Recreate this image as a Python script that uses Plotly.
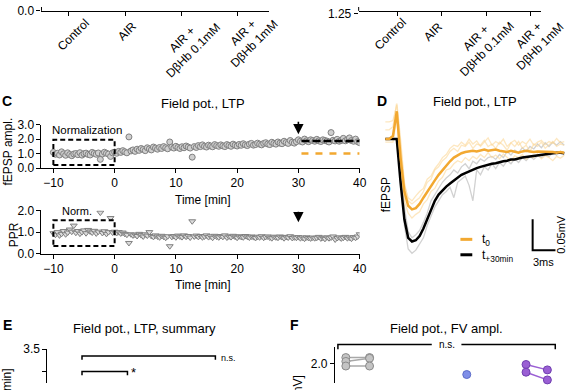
import plotly.graph_objects as go

W, H = 585, 390
FONT = "Liberation Sans, Arial, sans-serif"

def fx(p):
    return p / W

def fy(p):
    return 1 - p / H

# ---------------- data ----------------
cat_labels = ["Control", "AIR", "AIR +<br>DβHb 0.1mM", "AIR +<br>DβHb 1mM"]
a_point_x = [2.8]
a_point_y = [0.13]

# Panel C : time course (3 samples / min, -10 ... 40 min)
t_start, t_step = -10.0, 1.0 / 3.0
fepsp_ampl = [
    1.08, 0.95, 1.02, 0.90, 1.12, 0.98, 0.88, 1.05, 0.93, 0.85,
    0.97, 1.00, 0.92, 1.06, 0.89, 0.99, 1.03, 0.94, 0.90, 1.08,
    1.01, 0.95, 1.04, 0.60, 0.97, 1.09, 1.02, 0.96, 0.80, 1.05,
    1.10, 1.02, 1.15, 1.08, 1.20, 1.12, 1.05, 2.15, 1.18, 1.25,
    1.15, 1.30, 1.22, 1.35, 1.28, 1.20, 1.40, 1.32, 1.25, 1.45,
    1.38, 1.30, 1.42, 1.35, 1.48, 1.40, 1.33, 1.80, 1.45, 1.38,
    1.50, 1.42, 1.35, 1.47, 1.40, 1.52, 1.45, 1.38, 0.75, 1.48,
    1.42, 1.55, 1.48, 1.60, 1.50, 1.45, 1.58, 1.52, 1.47, 1.62,
    1.55, 1.50, 1.60, 1.53, 1.48, 1.62, 1.56, 1.50, 1.65, 1.58,
    1.52, 1.63, 1.57, 1.68, 1.60, 1.55, 1.65, 1.70, 1.58, 1.62,
    1.72, 1.65, 1.60, 1.70, 1.75, 1.66, 1.62, 1.78, 1.70, 1.65,
    1.80, 1.72, 1.68, 1.85, 1.76, 1.70, 1.90, 1.78, 1.72, 1.82,
    1.95, 1.85, 1.80, 2.00, 1.88, 1.82, 1.95, 1.90, 1.85, 1.98,
    1.88, 1.83, 1.95, 1.90, 1.86, 1.80, 2.45, 1.92, 1.87, 1.98,
    1.85, 1.90, 2.05, 1.88, 1.95, 2.08, 1.90, 1.85, 2.00, 1.82, 1.75,
]
ppr = [
    0.95, 0.88, 1.00, 0.85, 0.92, 1.05, 0.90, 0.98, 1.12, 1.02,
    1.30, 0.97, 1.05, 0.93, 1.00, 1.08, 0.95, 1.10, 1.03, 0.98,
    1.06, 0.94, 1.02, 1.90, 0.96, 1.04, 0.92, 1.00, 1.65, 0.98,
    1.02, 0.96, 1.00, 0.94, 0.98, 0.92, 0.88, 0.50, 0.90, 0.85,
    0.88, 0.82, 0.92, 0.86, 0.80, 0.90, 0.84, 1.00, 0.82, 0.78,
    0.85, 0.80, 0.76, 0.83, 0.79, 0.74, 0.81, 0.35, 0.78, 0.82,
    0.76, 0.84, 0.80, 0.77, 0.85, 0.79, 0.82, 0.75, 1.50, 0.80,
    0.84, 0.78, 0.82, 0.76, 0.80, 0.85, 0.77, 0.81, 0.74, 0.83,
    0.79, 0.76, 0.82, 0.78, 0.85, 0.75, 0.80, 0.77, 0.83, 0.79,
    0.74, 0.81, 0.78, 0.76, 0.82, 0.79, 0.75, 0.80, 0.77, 0.73,
    0.79, 0.76, 0.81, 0.74, 0.78, 0.80, 0.75, 0.72, 0.79, 0.76,
    0.74, 0.80, 0.77, 0.72, 0.78, 0.75, 0.81, 0.73, 0.76, 0.74,
    0.77, 0.72, 0.75, 0.70, 0.76, 0.73, 0.71, 0.75, 0.72, 0.74,
    0.78, 0.71, 0.74, 0.69, 0.76, 0.72, 0.75, 0.80, 0.66, 0.73,
    0.76, 0.71, 0.74, 0.78, 0.72, 0.75, 0.70, 0.77, 0.74, 0.80, 0.90,
]
time_min = [t_start + i * t_step for i in range(len(fepsp_ampl))]
norm_window = [-10, 0]
ltp_window = [30.5, 40]
ltp_level = 1.87
base_level = 1.0
stim_time = 30

# Panel D : example traces (ms, mV), 0.5 ms sampling
trace_t = [i * 0.5 for i in range(48)]
mean_t0 = [
    0.0, 0.0, 0.005, 0.045, -0.03, -0.085, -0.108, -0.114, -0.112, -0.105,
    -0.095, -0.085, -0.075, -0.067, -0.058, -0.05, -0.043, -0.036, -0.03, -0.026,
    -0.023, -0.021, -0.02, -0.019, -0.02, -0.018, -0.017, -0.019, -0.018, -0.017,
    -0.019, -0.02, -0.021, -0.019, -0.02, -0.022, -0.02, -0.019, -0.02, -0.021,
    -0.02, -0.02, -0.021, -0.02, -0.021, -0.022, -0.021, -0.022,
]
mean_t30 = [
    0.0, 0.0, 0.0, 0.0, -0.07, -0.13, -0.16, -0.166, -0.164, -0.157,
    -0.145, -0.13, -0.115, -0.1, -0.09, -0.083, -0.077, -0.072, -0.067, -0.062,
    -0.058, -0.055, -0.052, -0.049, -0.047, -0.045, -0.043, -0.042, -0.04, -0.039,
    -0.037, -0.036, -0.035, -0.033, -0.033, -0.031, -0.03, -0.029, -0.028, -0.027,
    -0.026, -0.025, -0.024, -0.024, -0.023, -0.022, -0.022, -0.023,
]
single_t0 = [
    [0.015, 0.015, 0.02, 0.06, 0.0, -0.07, -0.1, -0.105, -0.1, -0.095,
     -0.085, -0.07, -0.065, -0.05, -0.045, -0.035, -0.03, -0.02, -0.015, -0.02,
     -0.01, -0.012, -0.005, -0.015, -0.008, -0.01, -0.002, -0.012, -0.008, -0.015,
     -0.005, -0.01, -0.018, -0.006, -0.012, -0.004, -0.015, -0.01, -0.02, -0.008,
     -0.012, -0.005, -0.015, -0.01, -0.004, -0.012, -0.008, -0.01],
    [-0.005, -0.005, -0.005, 0.035, -0.045, -0.1, -0.12, -0.128, -0.122, -0.118,
     -0.105, -0.098, -0.085, -0.08, -0.068, -0.062, -0.05, -0.048, -0.04, -0.035,
     -0.038, -0.03, -0.035, -0.028, -0.032, -0.025, -0.03, -0.022, -0.03, -0.026,
     -0.032, -0.024, -0.03, -0.035, -0.027, -0.03, -0.025, -0.033, -0.028, -0.03,
     -0.024, -0.032, -0.027, -0.03, -0.035, -0.028, -0.031, -0.026],
    [0.028, 0.028, 0.03, 0.055, -0.01, -0.075, -0.095, -0.1, -0.092, -0.085,
     -0.08, -0.065, -0.06, -0.048, -0.04, -0.03, -0.025, -0.015, -0.01, -0.012,
     -0.005, -0.01, 0.0, -0.008, -0.003, -0.012, -0.005, 0.002, -0.01, -0.004,
     -0.008, 0.0, -0.012, -0.006, -0.002, -0.01, -0.004, -0.008, 0.0, -0.01,
     -0.005, -0.002, -0.009, -0.004, -0.007, 0.001, -0.006, -0.004],
]
single_t30 = [
    [0.0, 0.0, 0.0, 0.0, -0.06, -0.14, -0.178, -0.185, -0.18, -0.17,
     -0.16, -0.14, -0.125, -0.11, -0.1, -0.09, -0.085, -0.078, -0.095, -0.07,
     -0.065, -0.06, -0.075, -0.1, -0.05, -0.058, -0.045, -0.05, -0.04, -0.048,
     -0.038, -0.044, -0.035, -0.04, -0.032, -0.038, -0.03, -0.035, -0.028, -0.033,
     -0.027, -0.03, -0.025, -0.028, -0.022, -0.026, -0.02, -0.025],
    [0.0, 0.0, 0.0, 0.0, -0.04, -0.11, -0.15, -0.16, -0.155, -0.148,
     -0.135, -0.12, -0.1, -0.09, -0.08, -0.07, -0.063, -0.058, -0.05, -0.055,
     -0.045, -0.04, -0.048, -0.036, -0.04, -0.032, -0.036, -0.03, -0.028, -0.033,
     -0.025, -0.03, -0.02, -0.026, -0.018, -0.022, -0.014, -0.02, -0.012, -0.016,
     -0.008, -0.014, -0.006, -0.012, -0.005, -0.01, -0.004, -0.01],
]
scale_ms = 3
scale_mv = 0.05

# Panel F : fibre volley amplitude
fv_x_pair_ctrl = [0, 1]
fv_ctrl_pre = [2.08, 2.03, 1.97]
fv_ctrl_post = [2.08, 2.07, 1.97]
fv_x_air = [5.1]
fv_air = [1.86]
fv_x_pair_dbhb = [7.6, 8.5]
fv_dbhb_pre = [1.99, 1.89]
fv_dbhb_post = [1.92, 1.79]

ORANGE = "#f2a830"
PURPLE = "#9a5fd4"
BLUE = "#7f8fe8"

fig = go.Figure()

# ---- A
fig.add_trace(go.Scatter(x=a_point_x, y=a_point_y, mode="markers", xaxis="x", yaxis="y",
                         marker=dict(size=8, color=PURPLE, line=dict(color="#6a3aa8", width=1)),
                         cliponaxis=False, showlegend=False))
# ---- B (axis only)
fig.add_trace(go.Scatter(x=[None], y=[None], xaxis="x2", yaxis="y2", showlegend=False))

# ---- C top
fig.add_trace(go.Scatter(x=ltp_window, y=[base_level, base_level], mode="lines", xaxis="x3", yaxis="y3",
                         line=dict(color=ORANGE, width=2.5, dash="7px,7px"), showlegend=False))
fig.add_trace(go.Scatter(x=time_min, y=fepsp_ampl, mode="markers", xaxis="x3", yaxis="y3",
                         marker=dict(size=6, color="#cfcfcf", line=dict(color="#808080", width=1)),
                         showlegend=False))
fig.add_trace(go.Scatter(x=ltp_window, y=[ltp_level, ltp_level], mode="lines", xaxis="x3", yaxis="y3",
                         line=dict(color="black", width=2.5, dash="8px,3px"), showlegend=False))
# ---- C bottom
fig.add_trace(go.Scatter(x=time_min, y=ppr, mode="markers", xaxis="x4", yaxis="y4",
                         marker=dict(size=6, symbol="triangle-down", color="#dcdcdc",
                                     line=dict(color="#808080", width=1)),
                         showlegend=False))

# ---- D
for tr in single_t30:
    fig.add_trace(go.Scatter(x=trace_t, y=tr, mode="lines", xaxis="x5", yaxis="y5",
                             line=dict(color="rgba(190,190,190,0.7)", width=1.3), showlegend=False))
for tr in single_t0:
    fig.add_trace(go.Scatter(x=trace_t, y=tr, mode="lines", xaxis="x5", yaxis="y5",
                             line=dict(color="rgba(252,215,150,0.6)", width=1.3), showlegend=False))
fig.add_trace(go.Scatter(x=trace_t, y=mean_t30, mode="lines", xaxis="x5", yaxis="y5",
                         line=dict(color="black", width=2.5), showlegend=False))
fig.add_trace(go.Scatter(x=trace_t, y=mean_t0, mode="lines", xaxis="x5", yaxis="y5",
                         line=dict(color=ORANGE, width=2.5), showlegend=False))

# ---- E (axis only)
fig.add_trace(go.Scatter(x=[None], y=[None], xaxis="x6", yaxis="y6", showlegend=False))

# ---- F
for a, b in zip(fv_ctrl_pre, fv_ctrl_post):
    fig.add_trace(go.Scatter(x=fv_x_pair_ctrl, y=[a, b], mode="lines+markers", xaxis="x7", yaxis="y7",
                             line=dict(color="#a8a8a8", width=1.5),
                             marker=dict(size=8, color="#c4c4c4", line=dict(color="#8a8a8a", width=1)),
                             cliponaxis=False, showlegend=False))
fig.add_trace(go.Scatter(x=fv_x_air, y=fv_air, mode="markers", xaxis="x7", yaxis="y7",
                         marker=dict(size=8, color=BLUE, line=dict(color="#5c6cc8", width=1)),
                         cliponaxis=False, showlegend=False))
for a, b in zip(fv_dbhb_pre, fv_dbhb_post):
    fig.add_trace(go.Scatter(x=fv_x_pair_dbhb, y=[a, b], mode="lines+markers", xaxis="x7", yaxis="y7",
                             line=dict(color=PURPLE, width=1.5),
                             marker=dict(size=8, color=PURPLE, line=dict(color="#7040b0", width=1)),
                             cliponaxis=False, showlegend=False))

axbase = dict(showgrid=False, zeroline=False, showline=True, linecolor="black", linewidth=1,
              ticks="outside", ticklen=4, tickcolor="black",
              tickfont=dict(family=FONT, size=12, color="black"))
hidden = dict(visible=False, showgrid=False, zeroline=False)

# top strip (A, B): a 60 px tall plot area whose value 0 (A) / 1.25 (B) sits 4 px below the top
fig.update_layout(
    width=W, height=H, margin=dict(l=0, r=0, t=0, b=0),
    paper_bgcolor="white", plot_bgcolor="rgba(0,0,0,0)",
    font=dict(family=FONT, size=12, color="black"),
    xaxis=dict(axbase, domain=[fx(42), fx(272)], range=[-0.49, 3.56], tickvals=[0, 1, 2, 3],
               showticklabels=False, anchor="free", position=fy(4)),
    yaxis=dict(axbase, showline=False, domain=[fy(60), 1], range=[-1.4, 0.1], tickvals=[0],
               ticktext=["0.0"], anchor="x"),
    xaxis2=dict(axbase, domain=[fx(363), fx(548)], range=[-0.87, 3.24], tickvals=[0, 1, 2, 3],
                showticklabels=False, anchor="free", position=fy(4)),
    yaxis2=dict(axbase, showline=False, domain=[fy(60), 1], range=[0.85, 1.3], tickvals=[1.25],
                ticktext=["1.25"], anchor="x2"),
    xaxis3=dict(axbase, domain=[fx(42), fx(364)], range=[-11.94, 40], tickvals=[-10, 0, 10, 20, 30, 40],
                anchor="y3"),
    yaxis3=dict(axbase, domain=[fy(167), fy(122)], range=[0, 3], tickvals=[0, 1, 2, 3],
                ticktext=["0.0", "1.0", "2.0", "3.0"], anchor="x3"),
    xaxis4=dict(axbase, domain=[fx(42), fx(364)], range=[-11.94, 40], tickvals=[-10, 0, 10, 20, 30, 40],
                anchor="y4"),
    yaxis4=dict(axbase, domain=[fy(256), fy(211)], range=[0, 2], tickvals=[0, 1, 2],
                ticktext=["0.0", "1.0", "2.0"], anchor="x4"),
    xaxis5=dict(hidden, domain=[fx(383), fx(578)], range=[-0.91, 24.4], anchor="y5"),
    yaxis5=dict(hidden, domain=[fy(275), fy(100)], range=[-0.2156, 0.0578], anchor="x5"),
    xaxis6=dict(hidden, domain=[fx(48), fx(290)], range=[0, 1], anchor="y6"),
    yaxis6=dict(axbase, domain=[0, fy(355)], range=[2.74, 3.5], tickvals=[3.0, 3.5], ticktext=["", "3.5"],
                anchor="x6"),
    xaxis7=dict(hidden, domain=[fx(339), fx(575)], range=[-0.46, 9.375], anchor="y7"),
    yaxis7=dict(axbase, domain=[0, fy(353)], range=[1.75, 2.2125], tickvals=[2.0], ticktext=["2.0"],
                anchor="x7"),
)

ann = []

def txt(x, y, s, size=12, bold=False, angle=0, xanchor="center", color="black"):
    ann.append(dict(x=fx(x), y=fy(y), xref="paper", yref="paper", text=("<b>%s</b>" % s) if bold else s,
                    showarrow=False, textangle=angle, xanchor=xanchor, yanchor="middle",
                    font=dict(family=FONT, size=size, color=color)))

# category labels (A, B)
for (cx, cy), s in zip([(74, 29), (129, 25), (190, 39), (252, 32)], cat_labels):
    txt(cx, cy, s, size=12, angle=-45)
for (cx, cy), s in zip([(395, 28), (438, 26), (487, 38), (541, 35)], cat_labels):
    txt(cx, cy, s, size=12, angle=-45)

# C
txt(7, 97, "C", size=14, bold=True)
txt(205, 100, "Field pot., LTP", size=13)
txt(51, 128, "Normalization", size=11.5, xanchor="left")
txt(61, 212, "Norm.", size=11, xanchor="left")
txt(8, 150, "fEPSP ampl.", size=12, angle=-90)
txt(14, 236, "PPR", size=12, angle=-90)
txt(205, 200, "Time [min]", size=12)
txt(205, 288, "Time [min]", size=12)
ann.append(dict(x=stim_time, y=2.33, xref="x3", yref="y3", text="", showarrow=True, ax=0, ay=-14,
                arrowhead=2, arrowsize=1.3, arrowwidth=1.6, arrowcolor="black"))
ann.append(dict(x=stim_time, y=1.45, xref="x4", yref="y4", text="", showarrow=True, ax=0, ay=-12,
                arrowhead=2, arrowsize=1.3, arrowwidth=1.6, arrowcolor="black"))

# D
txt(387, 97, "D", size=14, bold=True)
txt(481, 98, "Field pot., LTP", size=13)
txt(391, 195, "fEPSP", size=12, angle=-90)
txt(486, 242, "t<sub>0</sub>", size=12, xanchor="left")
txt(486, 258, "t<sub>+30min</sub>", size=12, xanchor="left")
txt(567, 236, "0.05mV", size=11, angle=-90)
txt(550, 264, "3ms", size=11)

# E
txt(8, 330, "E", size=14, bold=True)
txt(146, 333, "Field pot., LTP, summary", size=13)
txt(222, 364, "n.s.", size=9, xanchor="left")
txt(135, 379, "*", size=13)
txt(7, 437, "fEPSP ampl. [t+30min]", size=12, angle=-90)

# F
txt(298, 330, "F", size=14, bold=True)
txt(452, 333, "Field pot., FV ampl.", size=13)
txt(452, 350, "n.s.", size=10)
txt(301, 421, "FV ampl. [mV]", size=12, angle=-90)

fig.update_layout(annotations=ann)

shapes = []
# short y-axis stubs of A and B (axis continues above the crop)
shapes.append(dict(type="line", xref="paper", yref="paper", x0=fx(42), x1=fx(42), y0=fy(4), y1=1,
                   line=dict(color="black", width=1)))
shapes.append(dict(type="line", xref="paper", yref="paper", x0=fx(363), x1=fx(363), y0=fy(4), y1=1,
                   line=dict(color="black", width=1)))
# normalization boxes
shapes.append(dict(type="rect", xref="x3", yref="y3", x0=norm_window[0], x1=norm_window[1], y0=0.2, y1=1.95,
                   line=dict(color="black", width=2, dash="5px,3px")))
shapes.append(dict(type="rect", xref="x4", yref="y4", x0=norm_window[0], x1=norm_window[1], y0=0.36, y1=1.55,
                   line=dict(color="black", width=2, dash="5px,3px")))
# scale bar (D)
shapes.append(dict(type="path", xref="x5", yref="y5",
                   path="M %f %f L %f %f L %f %f" % (19.35, -0.18 + scale_mv, 19.35, -0.18,
                                                    19.35 + scale_ms, -0.18),
                   line=dict(color="black", width=2)))
# legend lines (D)
shapes.append(dict(type="line", xref="paper", yref="paper", x0=fx(466), x1=fx(478), y0=fy(241), y1=fy(241),
                   line=dict(color=ORANGE, width=3)))
shapes.append(dict(type="line", xref="paper", yref="paper", x0=fx(466), x1=fx(478), y0=fy(257), y1=fy(257),
                   line=dict(color="black", width=3)))

def bracket(pts):
    p = "M " + " L ".join("%f %f" % (fx(a), fy(b)) for a, b in pts)
    shapes.append(dict(type="path", xref="paper", yref="paper", path=p, line=dict(color="black", width=1.5)))

bracket([(83, 366), (83, 362), (218, 362), (218, 366)])
bracket([(83, 382), (83, 378), (129, 378), (129, 382)])
bracket([(342, 355), (342, 350), (437, 350)])
bracket([(467, 350), (562, 350), (562, 355)])

fig.update_layout(shapes=shapes)

fig.write_html("out.html", config={"displayModeBar": False},
               post_script="document.body.style.margin='0px';document.body.style.overflow='hidden';")
